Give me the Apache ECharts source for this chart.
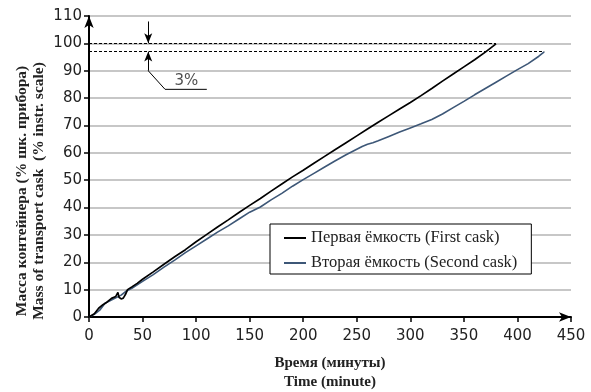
<!DOCTYPE html>
<html><head><meta charset="utf-8">
<script src="https://cdn.jsdelivr.net/npm/echarts@6/dist/echarts.min.js"></script>
<style>html,body{margin:0;padding:0;background:#fff}#c{width:591px;height:392px}</style>
</head><body><div id="c"></div>
<script>
var firstX = [0,5,9,13,17,21,25,27,28,30,32,34,36,40,45,50,60,70,80,90,100,110,120,130,140,150,160,170,180,190,200,210,220,230,240,250,260,270,280,290,300,310,320,330,340,350,360,370,380];
var firstY = [0,1.2,3.2,4.5,5.5,6.8,7.5,9,7.2,6.6,6.9,8.2,10,11,12.3,13.8,16.5,19.3,22,24.6,27.5,30.2,32.9,35.5,38.2,40.8,43.3,46,48.6,51.2,53.6,56.2,58.7,61.2,63.7,66.2,68.7,71.2,73.6,76,78.4,80.9,83.5,86.2,88.8,91.4,94,96.8,99.8];
var secondX = [0,5,10,15,20,25,30,35,40,50,60,70,80,90,100,110,120,130,140,150,160,170,180,190,200,210,220,230,240,250,255,260,265,270,280,290,300,310,320,330,340,350,360,370,380,390,400,410,420,425];
var secondY = [0,1,2.5,5,6,7,8,9.5,10.5,13,15.5,18.2,20.8,23.5,26,28.5,31,33.3,35.8,38.3,40.2,42.8,45.2,47.8,50.2,52.5,54.8,57.1,59.3,61.3,62.3,63.1,63.7,64.4,66,67.6,69.1,70.6,72.2,74.2,76.5,78.8,81.2,83.5,85.8,88.1,90.4,92.6,95.3,96.9];
var seriesNames = ['Первая ёмкость (First cask)', 'Вторая ёмкость (Second cask)'];
var xTicks = [0,50,100,150,200,250,300,350,400,450];
var yTicks = [0,10,20,30,40,50,60,70,80,90,100,110];
var levelFirst = 100, levelSecond = 97, endFirst = 380, endSecond = 425;
var arrowX = 55.3;
var leader = [[55.3,90],[71,83.2],[110,83.2]];
var labelPos = [91,86.3];
var xTitle = ['Время (минуты)', 'Time (minute)'];
var yTitle = ['Масса контейнера (% шк. прибора)', 'Mass of transport cask  (% instr. scale)'];

function zip(a,b){return a.map(function(v,i){return [v,b[i]];});}
var chart = echarts.init(document.getElementById('c'));
var tickFont = {fontFamily:'DejaVu Sans', fontSize:15, color:'#222'};
chart.setOption({
  animation:false,
  grid:{left:89,right:20,top:16,bottom:75},
  xAxis:{type:'value',min:0,max:450,interval:50,
    axisLine:{lineStyle:{color:'#000',width:2},symbol:['none','arrow'],symbolSize:[7,12]},
    axisTick:{show:true,length:5,lineStyle:{color:'#000',width:1.5}},
    axisLabel:Object.assign({margin:12},tickFont),
    splitLine:{show:false}},
  yAxis:{type:'value',min:0,max:110,interval:10,
    axisLine:{show:true,lineStyle:{color:'#000',width:2},symbol:['none','arrow'],symbolSize:[7,12]},
    axisTick:{show:true,length:5,lineStyle:{color:'#000',width:1.5}},
    axisLabel:Object.assign({margin:7},tickFont),
    splitLine:{show:true,lineStyle:{color:'#b4b4b4',width:1.5}}},
  legend:{data:seriesNames,orient:'vertical',left:270,top:224,icon:'rect',
    backgroundColor:'#fff',borderColor:'#000',borderWidth:1,borderRadius:0,
    padding:[5,14,2,14],itemGap:7,itemWidth:22,itemHeight:2,
    textStyle:{fontFamily:'Liberation Serif',fontSize:16.5,lineHeight:18,color:'#222'}},
  graphic:[
    {type:'text',x:330,y:353.5,style:{text:xTitle.join('\n'),fontFamily:'Liberation Serif',fontWeight:'bold',fontSize:15,lineHeight:19,fill:'#222',textAlign:'center'}},
    {type:'text',x:13.5,y:191,rotation:Math.PI/2,style:{text:yTitle.join('\n'),fontFamily:'Liberation Serif',fontWeight:'bold',fontSize:15.5,lineHeight:17,fill:'#222',textAlign:'center',textVerticalAlign:'top'}}
  ],
  series:[
    {name:seriesNames[0],type:'line',data:zip(firstX,firstY),symbol:'none',z:3,
      lineStyle:{color:'#000',width:1.7},itemStyle:{color:'#000'},
      markLine:{silent:true,symbol:'none',label:{show:false},lineStyle:{color:'#000',width:1,type:[3,2]},
        data:[[{coord:[0,levelFirst]},{coord:[endFirst,levelFirst]}],[{coord:[0,levelSecond]},{coord:[endSecond,levelSecond]}]]}},
    {name:seriesNames[1],type:'line',data:zip(secondX,secondY),symbol:'none',z:2,
      lineStyle:{color:'#3d5777',width:1.6},itemStyle:{color:'#3d5777'}},
    {type:'line',data:leader,symbol:'none',silent:true,lineStyle:{color:'#000',width:1},
      markLine:{silent:true,symbol:['none','arrow'],symbolSize:[6,10],label:{show:false},lineStyle:{color:'#000',width:1,type:'solid'},
        data:[[{coord:[arrowX,108]},{coord:[arrowX,levelFirst]}],[{coord:[arrowX,90]},{coord:[arrowX,levelSecond]}]]}},
    {type:'scatter',data:[labelPos],symbolSize:0,silent:true,
      label:{show:true,position:'inside',formatter:'3%',fontFamily:'DejaVu Sans',fontSize:15,color:'#222'}}
  ]
});
</script></body></html>
